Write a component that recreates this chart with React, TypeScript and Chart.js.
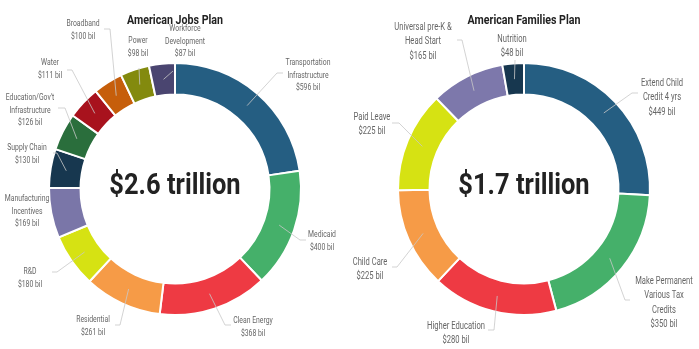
import React, { useEffect, useRef } from "react";
import { Chart, registerables } from "chart.js";

Chart.register(...registerables);

// ---------- data ----------
const jobsCategories: string[][] = [
  ["Transportation", "Infrastructure"],
  ["Medicaid"],
  ["Clean Energy"],
  ["Residential"],
  ["R&D"],
  ["Manufacturing", "Incentives"],
  ["Supply Chain"],
  ["Education/Gov't", "Infrastructure"],
  ["Water"],
  ["Broadband"],
  ["Power"],
  ["Workforce", "Development"],
];
const jobsValues: number[] = [596, 400, 368, 261, 180, 169, 130, 126, 111, 100, 98, 87];
const jobsColors: string[] = [
  "#255E82", "#45B06A", "#EE3A43", "#F69B47", "#D6E213", "#7A76A8",
  "#17374F", "#2A6E3C", "#A8121D", "#C65E0B", "#838A0E", "#4A4570",
];
const jobsTitle = "American Jobs Plan";
const jobsTotal = "$2.6 trillion";

const familiesCategories: string[][] = [
  ["Extend Child", "Credit 4 yrs"],
  ["Make Permanent", "Various Tax", "Credits"],
  ["Higher Education"],
  ["Child Care"],
  ["Paid Leave"],
  ["Universal pre-K &", "Head Start"],
  ["Nutrition"],
];
const familiesValues: number[] = [449, 350, 280, 225, 225, 165, 48];
const familiesColors: string[] = [
  "#255E82", "#45B06A", "#EE3A43", "#F69B47", "#D6E213", "#7D78AB", "#17374F",
];
const familiesTitle = "American Families Plan";
const familiesTotal = "$1.7 trillion";

// ---------- label layout (relative to ring centre): [elbowDx, elbowDy, lineEndDx, textDx, textDy] ----------
type Lay = [number | null, number | null, number | null, number, number];
const jobsLabelLayout: Lay[] = [
  [102, -116, 108, 133, -126],
  [125, 51, 131, 147, 46],
  [50, 136, 56, 78, 132],
  [-55, 136, -60, -82, 131],
  [-118, 83, -123, -145, 83],
  [null, null, null, -148, 10],
  [-118, -36, -122, -148, -41],
  [-110, -81, -117, -145, -91],
  [-103, -119, -108, -125, -126],
  [-65, -160, -71, -92, -165],
  [-36, -121, -36, -37, -148],
  [-2, -118, -2, 10, -160],
];
const familiesLabelLayout: Lay[] = [
  [108, -96, 114, 138, -106],
  [101, 111, 106, 140, 92],
  [-30, 141, -36, -68, 137],
  [-127, 78, -132, -154, 73],
  [-125, -66, -132, -152, -72],
  [-62, -149, -67, -101, -162],
  [-9, -129, -9, -12, -150],
];

const FONT = "Roboto, 'Noto Sans', sans-serif";

function fmt(v: number) {
  return "$" + v + " bil";
}

// emulate a condensed face by squeezing horizontally
function squeezedText(ctx: CanvasRenderingContext2D, t: string, x: number, y: number, sq: number) {
  ctx.save();
  ctx.translate(x, y);
  ctx.scale(sq, 1);
  ctx.fillText(t, 0, 0);
  ctx.restore();
}

function makePlugin(
  title: string,
  total: string,
  categories: string[][],
  values: number[],
  layout: Lay[],
  lineHeight: number,
  fontSize: number
) {
  return {
    id: "calloutLabels",
    afterDatasetsDraw(chart: any) {
      const ctx: CanvasRenderingContext2D = chart.ctx;
      const meta = chart.getDatasetMeta(0);
      const first = meta.data[0];
      const cx = first.x;
      const cy = first.y;
      ctx.save();
      ctx.textAlign = "center";
      ctx.textBaseline = "middle";
      // title
      ctx.fillStyle = "#222";
      ctx.font = `bold 13.5px ${FONT}`;
      squeezedText(ctx, title, cx, cy - 168, 0.79);
      // total
      ctx.font = `bold 30px ${FONT}`;
      squeezedText(ctx, total, cx, cy - 3, 0.85);
      // callouts
      meta.data.forEach((arc: any, i: number) => {
        const lay = layout[i];
        if (!lay) return;
        const [ex, ey, endx, tx, ty] = lay;
        if (ex !== null && ey !== null && endx !== null) {
          const p = arc.getCenterPoint();
          ctx.strokeStyle = "#c8c8c8";
          ctx.lineWidth = 0.8;
          ctx.beginPath();
          ctx.moveTo(p.x, p.y);
          ctx.lineTo(cx + ex, cy + ey);
          ctx.lineTo(cx + endx, cy + ey);
          ctx.stroke();
        }
        const lines = [...categories[i], fmt(values[i])];
        ctx.fillStyle = "#666";
        ctx.font = `${fontSize}px ${FONT}`;
        lines.forEach((t, k) => squeezedText(ctx, t, cx + tx, cy + ty + k * lineHeight, 0.76));
      });
      ctx.restore();
    },
  };
}

function Donut(props: {
  width: number;
  left: number;
  padding: { left: number; right: number; top: number; bottom: number };
  title: string;
  total: string;
  categories: string[][];
  values: number[];
  colors: string[];
  layout: Lay[];
  lineHeight: number;
  fontSize: number;
}) {
  const ref = useRef<HTMLCanvasElement | null>(null);
  useEffect(() => {
    if (!ref.current) return;
    const chart = new Chart(ref.current, {
      type: "doughnut",
      data: {
        labels: props.categories as any,
        datasets: [
          {
            data: props.values,
            backgroundColor: props.colors,
            borderColor: "#ffffff",
            borderWidth: 2,
          },
        ],
      },
      options: {
        animation: false,
        responsive: false,
        cutout: "75%",
        layout: { padding: props.padding },
        plugins: { legend: { display: false }, tooltip: { enabled: false } },
      },
      plugins: [
        makePlugin(props.title, props.total, props.categories, props.values, props.layout, props.lineHeight, props.fontSize) as any,
      ],
    });
    return () => chart.destroy();
  }, []);
  return (
    <canvas
      ref={ref}
      width={props.width}
      height={349}
      style={{ position: "absolute", left: props.left, top: 0, width: props.width, height: 349 }}
    />
  );
}

export default function App() {
  return (
    <div style={{ position: "fixed", left: 0, top: 0, width: 699, height: 349, background: "#fff", overflow: "hidden" }}>
      <Donut
        width={350}
        left={0}
        padding={{ left: 48, right: 48, top: 62, bottom: 33 }}
        title={jobsTitle}
        total={jobsTotal}
        categories={jobsCategories}
        values={jobsValues}
        colors={jobsColors}
        layout={jobsLabelLayout}
        lineHeight={12.6}
        fontSize={9}
      />
      <Donut
        width={349}
        left={350}
        padding={{ left: 47, right: 48, top: 62, bottom: 33 }}
        title={familiesTitle}
        total={familiesTotal}
        categories={familiesCategories}
        values={familiesValues}
        colors={familiesColors}
        layout={familiesLabelLayout}
        lineHeight={14.5}
        fontSize={10}
      />
    </div>
  );
}
